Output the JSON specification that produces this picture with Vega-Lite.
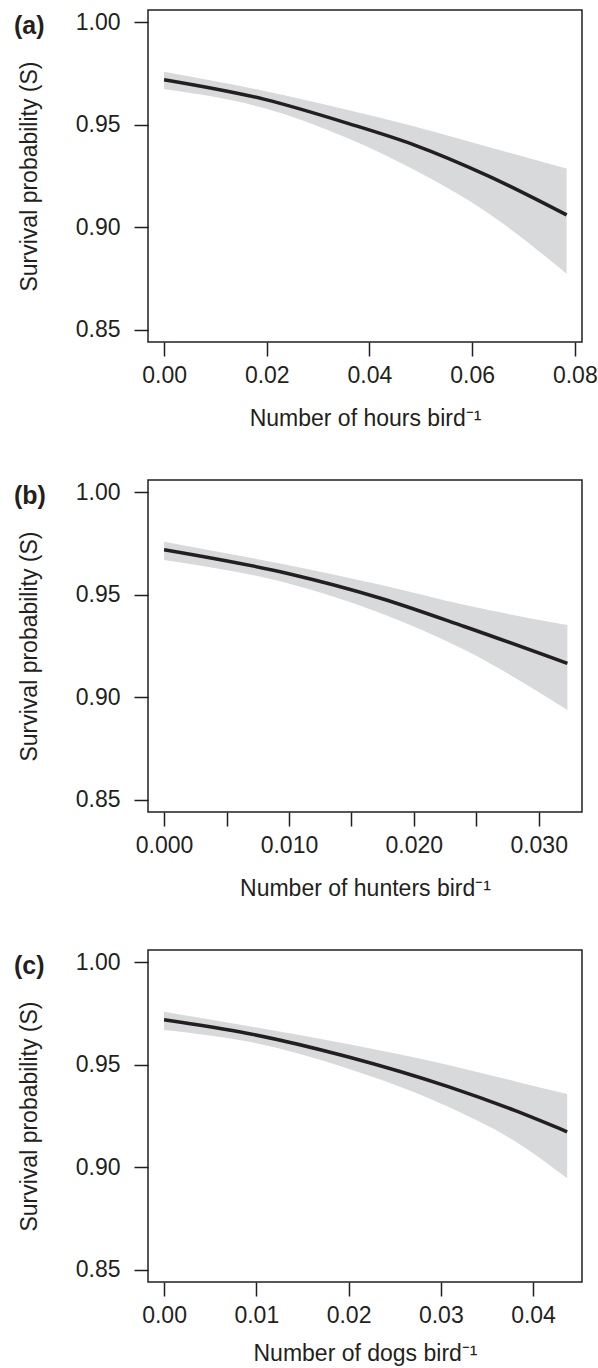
{
  "$schema": "https://vega.github.io/schema/vega-lite/v6.json",
  "background": "white",
  "padding": {"left": 13, "top": 9, "right": 10, "bottom": 0},
  "spacing": 138,
  "bounds": "flush",
  "datasets": {
    "a": [
      {"x": 0.0, "fit": 0.9720, "lo": 0.9674, "hi": 0.9759},
      {"x": 0.0196, "fit": 0.9624, "lo": 0.9580, "hi": 0.9665},
      {"x": 0.0358, "fit": 0.9507, "lo": 0.9434, "hi": 0.9572},
      {"x": 0.0488, "fit": 0.9401, "lo": 0.9279, "hi": 0.9491},
      {"x": 0.0630, "fit": 0.9252, "lo": 0.9071, "hi": 0.9393},
      {"x": 0.0784, "fit": 0.9060, "lo": 0.8773, "hi": 0.9286}
    ],
    "b": [
      {"x": 0.0, "fit": 0.9720, "lo": 0.9670, "hi": 0.9759},
      {"x": 0.0099, "fit": 0.9604, "lo": 0.9556, "hi": 0.9645},
      {"x": 0.0174, "fit": 0.9482, "lo": 0.9409, "hi": 0.9548},
      {"x": 0.0241, "fit": 0.9344, "lo": 0.9230, "hi": 0.9450},
      {"x": 0.0323, "fit": 0.9165, "lo": 0.8938, "hi": 0.9352}
    ],
    "c": [
      {"x": 0.0, "fit": 0.9720, "lo": 0.9670, "hi": 0.9759},
      {"x": 0.0091, "fit": 0.9653, "lo": 0.9613, "hi": 0.9689},
      {"x": 0.0199, "fit": 0.9539, "lo": 0.9482, "hi": 0.9601},
      {"x": 0.0308, "fit": 0.9393, "lo": 0.9295, "hi": 0.9499},
      {"x": 0.0380, "fit": 0.9277, "lo": 0.9128, "hi": 0.9420},
      {"x": 0.0437, "fit": 0.9173, "lo": 0.8946, "hi": 0.9357}
    ]
  },
  "vconcat": [
    {
      "width": 434, "height": 332,
      "title": {"text": "(a)", "anchor": "start", "frame": "group", "orient": "top", "offset": -29, "dx": -134, "fontSize": 25, "fontWeight": "bold", "font": "Liberation Sans", "color": "#231f20"},
      "data": {"name": "a"},
      "layer": [
        {"mark": {"type": "area", "color": "#d8d9db", "opacity": 1, "interpolate": "monotone"},
         "encoding": {
           "x": {"field": "x", "type": "quantitative", "scale": {"domain": [-0.00313, 0.0814], "nice": false, "zero": false},
                 "axis": {"title": "Number of hours bird⁻¹", "values": [0, 0.02, 0.04, 0.06, 0.08], "format": ".2f"}},
           "y": {"field": "lo", "type": "quantitative", "scale": {"domain": [0.844, 1.006], "nice": false, "zero": false},
                 "axis": {"title": "Survival probability (S)", "values": [0.85, 0.9, 0.95, 1.0], "format": ".2f"}},
           "y2": {"field": "hi"}
         }},
        {"mark": {"type": "line", "color": "#231f20", "strokeWidth": 3.5, "interpolate": "monotone"},
         "encoding": {
           "x": {"field": "x", "type": "quantitative"},
           "y": {"field": "fit", "type": "quantitative"}
         }}
      ]
    },
    {
      "width": 434, "height": 332,
      "title": {"text": "(b)", "anchor": "start", "frame": "group", "orient": "top", "offset": -29, "dx": -134, "fontSize": 25, "fontWeight": "bold", "font": "Liberation Sans", "color": "#231f20"},
      "data": {"name": "b"},
      "layer": [
        {"mark": {"type": "area", "color": "#d8d9db", "opacity": 1, "interpolate": "monotone"},
         "encoding": {
           "x": {"field": "x", "type": "quantitative", "scale": {"domain": [-0.00129, 0.03347], "nice": false, "zero": false},
                 "axis": {"title": "Number of hunters bird⁻¹", "values": [0, 0.005, 0.01, 0.015, 0.02, 0.025, 0.03], "format": ".3f",
                          "labelExpr": "indexof(['0.000','0.010','0.020','0.030'], datum.label) >= 0 ? datum.label : ''"}},
           "y": {"field": "lo", "type": "quantitative", "scale": {"domain": [0.844, 1.006], "nice": false, "zero": false},
                 "axis": {"title": "Survival probability (S)", "values": [0.85, 0.9, 0.95, 1.0], "format": ".2f"}},
           "y2": {"field": "hi"}
         }},
        {"mark": {"type": "line", "color": "#231f20", "strokeWidth": 3.5, "interpolate": "monotone"},
         "encoding": {
           "x": {"field": "x", "type": "quantitative"},
           "y": {"field": "fit", "type": "quantitative"}
         }}
      ]
    },
    {
      "width": 434, "height": 332,
      "title": {"text": "(c)", "anchor": "start", "frame": "group", "orient": "top", "offset": -29, "dx": -134, "fontSize": 25, "fontWeight": "bold", "font": "Liberation Sans", "color": "#231f20"},
      "data": {"name": "c"},
      "layer": [
        {"mark": {"type": "area", "color": "#d8d9db", "opacity": 1, "interpolate": "monotone"},
         "encoding": {
           "x": {"field": "x", "type": "quantitative", "scale": {"domain": [-0.00174, 0.04531], "nice": false, "zero": false},
                 "axis": {"title": "Number of dogs bird⁻¹", "values": [0, 0.01, 0.02, 0.03, 0.04], "format": ".2f", "titlePadding": 15}},
           "y": {"field": "lo", "type": "quantitative", "scale": {"domain": [0.844, 1.006], "nice": false, "zero": false},
                 "axis": {"title": "Survival probability (S)", "values": [0.85, 0.9, 0.95, 1.0], "format": ".2f"}},
           "y2": {"field": "hi"}
         }},
        {"mark": {"type": "line", "color": "#231f20", "strokeWidth": 3.5, "interpolate": "monotone"},
         "encoding": {
           "x": {"field": "x", "type": "quantitative"},
           "y": {"field": "fit", "type": "quantitative"}
         }}
      ]
    }
  ],
  "config": {
    "view": {"stroke": "#231f20", "strokeWidth": 1.5},
    "axis": {
      "domain": false, "grid": false,
      "tickColor": "#231f20", "tickWidth": 1.5, "tickSize": 14,
      "labelFont": "Liberation Sans", "labelFontSize": 23, "labelColor": "#231f20",
      "labelOverlap": false, "labelFlush": false, "labelBound": false,
      "titleFont": "Liberation Sans", "titleFontSize": 23, "titleFontWeight": "normal", "titleColor": "#231f20"
    },
    "axisX": {"labelPadding": 8, "titlePadding": 20},
    "axisY": {"labelPadding": 14, "titlePadding": 34}
  }
}
